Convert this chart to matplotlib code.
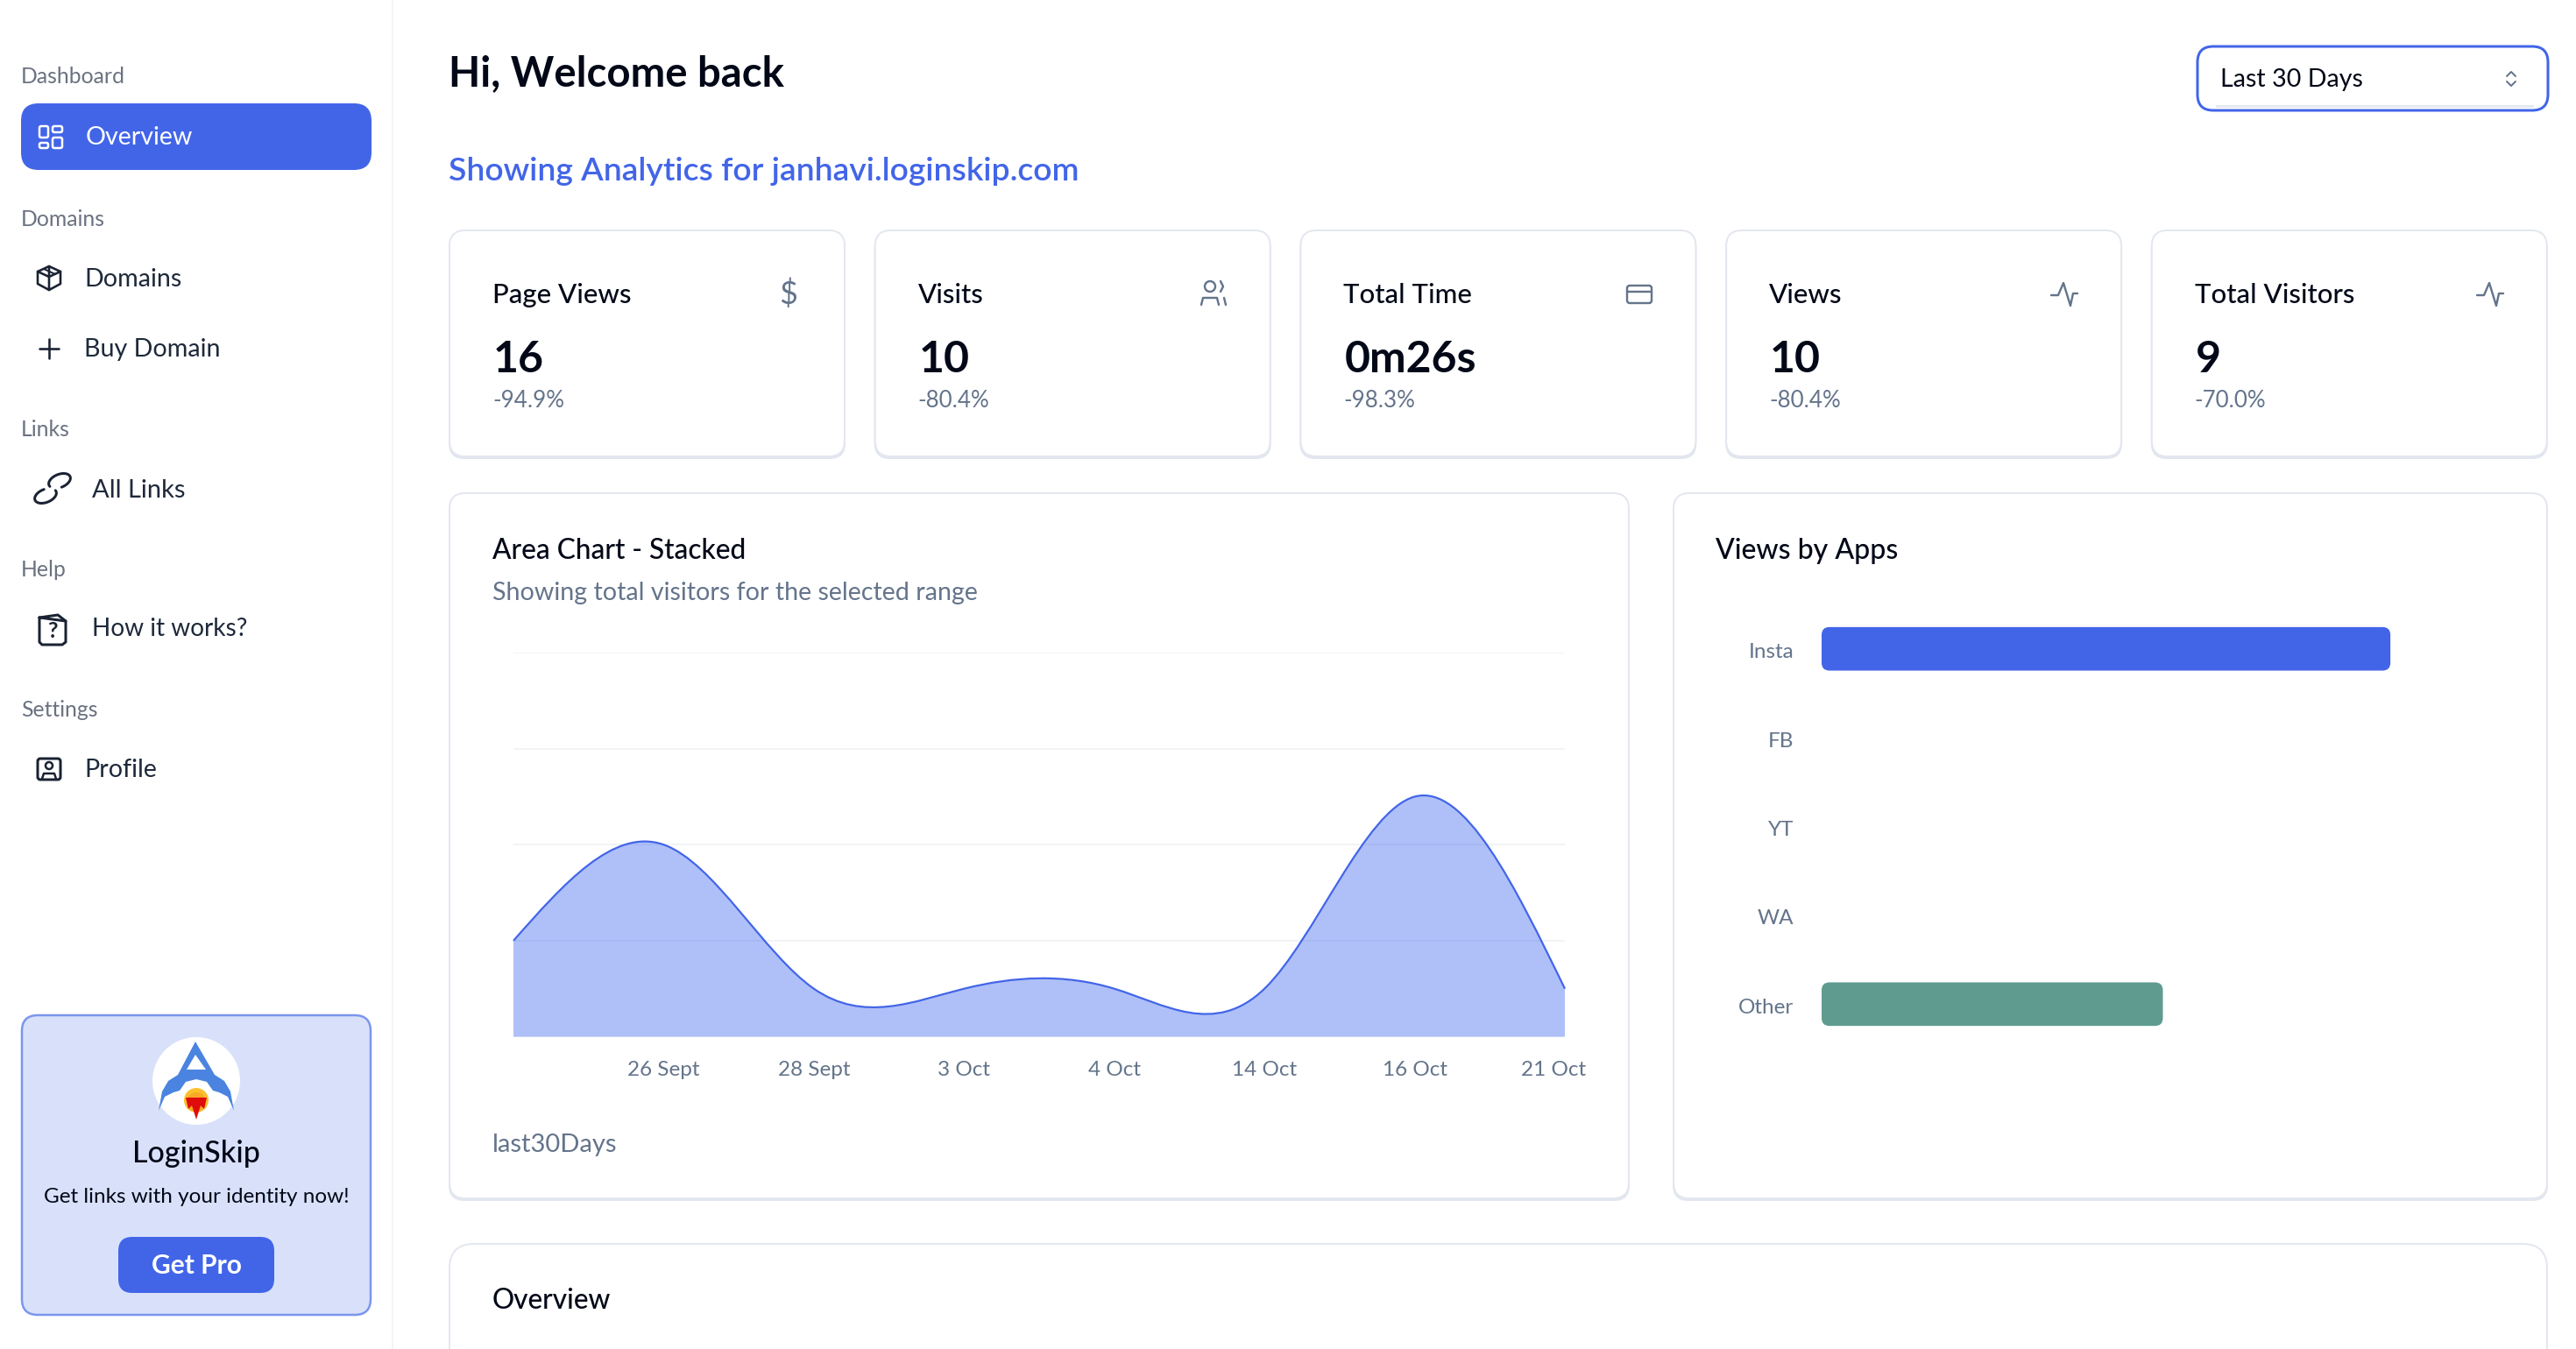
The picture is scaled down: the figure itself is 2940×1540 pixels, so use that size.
import numpy as np
import matplotlib

matplotlib.use("Agg")
import matplotlib.pyplot as plt
from matplotlib.patches import Circle, FancyBboxPatch, PathPatch, Polygon
from matplotlib.path import Path
from matplotlib.transforms import ScaledTranslation

W, H = 2940, 1540
FONT = "Lato"
PRIMARY = "#4265E8"
GREEN = "#5F9C8F"
DARK = "#020817"
GREY = "#64748B"
ICON = "#1A2233"
BORDER = "#E3E7EF"

# chart data
area_dates = ["", "26 Sept", "28 Sept", "3 Oct", "4 Oct", "14 Oct", "16 Oct", "21 Oct"]
area_visitors = [1, 2, 0.5, 0.5, 0.5, 0.5, 2.5, 0.5]
app_names = ["Insta", "FB", "YT", "WA", "Other"]
app_views = [10, 0, 0, 0, 6]
app_colors = [PRIMARY, PRIMARY, PRIMARY, PRIMARY, GREEN]

# stat cards
stat_titles = ["Page Views", "Visits", "Total Time", "Views", "Total Visitors"]
stat_values = ["16", "10", "0m26s", "10", "9"]
stat_changes = ["-94.9%", "-80.4%", "-98.3%", "-80.4%", "-70.0%"]

fig = plt.figure(figsize=(W / 100, H / 100), dpi=100, facecolor="white")
ui = fig.add_axes([0, 0, 1, 1])
ui.set_xlim(0, W)
ui.set_ylim(H, 0)
ui.axis("off")


def px(width):
    return width * 0.72


def label(x, cy, s, size, color=DARK, weight="normal", ha="left"):
    # cy is the middle of the capitals, size is in points
    ui.text(x, cy + size * 100 / 72 * 0.36, s, fontsize=size, color=color,
            fontweight=weight, ha=ha, va="baseline", family=FONT)


def rrect(x0, y0, x1, y1, r, face="white", edge="none", lw=0, zorder=1):
    box = FancyBboxPatch((x0, y0), x1 - x0, y1 - y0, boxstyle=f"round,pad=0,rounding_size={r}",
                         facecolor=face, edgecolor=edge, linewidth=px(lw), zorder=zorder)
    ui.add_patch(box)


def card(x0, y0, x1, y1, r=18):
    rrect(x0 - 1, y0 + 3, x1 + 1, y1 + 3, r, face="#E2E6EE")
    rrect(x0, y0, x1, y1, r, face="white", edge=BORDER, lw=2)


def stroke(xs, ys, color=ICON, lw=3):
    ui.plot(xs, ys, color=color, lw=px(lw), solid_capstyle="round", solid_joinstyle="round", zorder=3)


# sidebar
ui.plot([448, 448], [0, H], color="#F3F4F6", lw=px(2))
rrect(24, 118, 424, 194, 20, face=PRIMARY)
for text, y in [("Dashboard", 86), ("Domains", 249), ("Links", 489), ("Help", 649), ("Settings", 809)]:
    label(24, y, text, 17.8, color="#6B7280")
label(98, 155, "Overview", 20.6, color="white")
for text, x, y, size in [("Domains", 96, 317, 20.6), ("Buy Domain", 96, 397, 20.6), ("All Links", 105, 557, 21),
                         ("How it works?", 105, 716, 20.2), ("Profile", 96, 877, 20.6)]:
    label(x, y, text, size, color="#1E293B")

# sidebar icons
for x0, y0, x1, y1 in [(45, 144, 55, 157), (60, 144, 71, 151), (45, 163, 55, 169), (60, 157, 71, 169)]:
    rrect(x0, y0, x1, y1, 2, face="none", edge="white", lw=2.5, zorder=3)
stroke([56, 69, 69, 56, 43, 43, 56, 56, 56], [304, 310, 324, 331, 324, 310, 304, 316, 331], lw=2.6)
stroke([43, 56, 69], [310, 316, 310], lw=2.6)
stroke([50, 63], [307, 313], lw=2)
stroke([45, 67], [398, 398], lw=2.6)
stroke([56, 56], [387, 409], lw=2.6)
# chain link, two open tilted loops
tilt = np.radians(-22)
for cx, cy, start, end in [(68, 549, 2.9, 7.9), (52, 566, -0.2, 4.8)]:
    t = np.linspace(start, end, 50)
    ex, ey = 13 * np.cos(t), 7.5 * np.sin(t)
    stroke(cx + ex * np.cos(tilt) - ey * np.sin(tilt), cy + ex * np.sin(tilt) + ey * np.cos(tilt), lw=3)
stroke([45, 45, 48, 71, 75, 75, 45], [705, 733, 736, 736, 733, 709, 705], lw=3)
stroke([45, 66, 75], [705, 702, 709], lw=3)
ui.text(60, 720, "?", fontsize=18, color=ICON, ha="center", va="center", family=FONT, fontweight="bold", zorder=3)
rrect(43, 866, 69, 890, 3, face="none", edge=ICON, lw=3, zorder=3)
ui.add_patch(Circle((56, 874), 4, facecolor="none", edgecolor=ICON, lw=px(2.5), zorder=3))
stroke([48, 50, 62, 64], [889, 883, 883, 889], lw=2.5)

# promo box
rrect(25, 1159, 423, 1501, 18, face="#D9E1FA", edge="#7B96ED", lw=2.5)
ui.add_patch(Circle((224, 1234), 50, facecolor="white", edgecolor="none", zorder=2))
rocket = [(223, 1189), (245, 1227), (256, 1234), (263, 1246), (267, 1268), (260, 1252), (250, 1247), (243, 1245),
          (236, 1235), (224, 1232), (212, 1235), (205, 1245), (198, 1247), (188, 1252), (181, 1268), (185, 1246),
          (192, 1234), (203, 1227)]
ui.add_patch(Polygon(rocket, closed=True, facecolor="#4A84E0", edgecolor="none", zorder=3))
ui.add_patch(Polygon([(223, 1204), (235, 1221), (213, 1221)], closed=True, facecolor="white", edgecolor="none", zorder=4))
ui.add_patch(Circle((224, 1256), 14, facecolor="#FBC02D", edgecolor="none", zorder=3))
ui.add_patch(Circle((224, 1258), 11, facecolor="#F9A825", edgecolor="none", zorder=3))
ui.add_patch(Polygon([(212, 1253), (236, 1253), (233, 1266), (229, 1262), (224, 1278), (219, 1262),
                      (215, 1266)], closed=True, facecolor="#E00B0B", edgecolor="none", zorder=4))
label(224, 1315, "LoginSkip", 24.5, weight="medium", ha="center")
label(224, 1364, "Get links with your identity now!", 17.5, ha="center")
rrect(135, 1412, 313, 1476, 16, face=PRIMARY, zorder=2)
ui.text(224, 1445, "Get Pro", fontsize=21.5, color="white", fontweight="bold", ha="center", va="center", family=FONT, zorder=3)

# header
label(512, 81, "Hi, Welcome back", 34, weight="bold")
label(512, 193, "Showing Analytics for janhavi.loginskip.com", 26.8, color=PRIMARY, weight=600)
rrect(2508, 53, 2908, 126, 18, face="white", edge=PRIMARY, lw=3)
ui.plot([2530, 2890], [121, 121], color="#E6E9F0", lw=px(3), zorder=2)
label(2534, 89, "Last 30 Days", 20.6)
stroke([2861, 2866, 2871], [87, 82, 87], color=GREY, lw=2)
stroke([2861, 2866, 2871], [93, 98, 93], color=GREY, lw=2)

# stat cards
for i, title in enumerate(stat_titles):
    x0 = 513 + i * 485.7
    card(x0, 263, x0 + 451, 521)
    label(x0 + 49, 335, title, 22.4, weight="medium")
    label(x0 + 50, 407, stat_values[i], 36, weight="bold")
    label(x0 + 49, 456, stat_changes[i], 18.7, color=GREY)

ui.text(900, 336, "$", fontsize=26, color=GREY, ha="center", va="center", family=FONT, zorder=3)
ui.add_patch(Circle((1381, 327), 6, facecolor="none", edgecolor=GREY, lw=px(2.4), zorder=3))
stroke([1371, 1373, 1389, 1391], [348, 340, 340, 348], color=GREY, lw=2.4)
stroke([1393, 1396, 1393], [321, 327, 333], color=GREY, lw=2.4)
stroke([1397, 1399], [340, 348], color=GREY, lw=2.4)
rrect(1857, 326, 1885, 346, 3, face="none", edge=GREY, lw=2.4, zorder=3)
stroke([1857, 1885], [333, 333], color=GREY, lw=2.4)
for x0 in [2341, 2827]:
    stroke(x0 + np.array([0, 8, 14, 22, 25, 30]), [337, 337, 323, 349, 335, 335], color=GREY, lw=2.4)

# large cards
card(513, 563, 1859, 1368)
card(1910, 563, 2907, 1368)
card(513, 1420, 2907, 1640, r=28)
label(562, 627, "Area Chart - Stacked", 22.8, weight="medium")
label(562, 675, "Showing total visitors for the selected range", 20.6, color=GREY)
label(562, 1305, "last30Days", 21, color=GREY)
label(1958, 627, "Views by Apps", 23, weight="medium")
label(562, 1483, "Overview", 22.7, weight="medium")


def axes_px(x0, y0, x1, y1):
    ax = fig.add_axes([x0 / W, 1 - y1 / H, (x1 - x0) / W, (y1 - y0) / H], facecolor="none", zorder=5)
    for side in ax.spines.values():
        side.set_visible(False)
    return ax


def natural_bezier(values):
    # same curve the web chart draws for type="natural": cubic spline as bezier segments
    y = np.asarray(values, dtype=float)
    n = len(y)
    A = np.zeros((n, n))
    b = np.zeros(n)
    A[0, 0] = A[-1, -1] = 1
    for k in range(1, n - 1):
        A[k, k - 1:k + 2] = [1, 4, 1]
        b[k] = 6 * (y[k - 1] - 2 * y[k] + y[k + 1])
    m = np.linalg.solve(A, b)
    verts = [(0, y[0])]
    codes = [Path.MOVETO]
    for k in range(n - 1):
        dy = y[k + 1] - y[k]
        c1 = y[k] + dy / 3 - (2 * m[k] + m[k + 1]) / 18
        c2 = y[k + 1] - dy / 3 - (m[k] + 2 * m[k + 1]) / 18
        verts += [(k + 1 / 3, c1), (k + 2 / 3, c2), (k + 1, y[k + 1])]
        codes += [Path.CURVE4] * 3
    return verts, codes


# area chart
ax_area = axes_px(586, 745, 1786, 1183.5)
ax_area.set_xlim(0, len(area_visitors) - 1)
ax_area.set_ylim(0, 4)
ax_area.set_yticks([0, 1, 2, 3, 4])
ax_area.set_yticklabels([])
ax_area.tick_params(axis="y", length=0)
ax_area.grid(axis="y", color="#F2F3F5", lw=px(2))
ax_area.set_axisbelow(True)
ax_area.set_xticks(range(len(area_dates)))
ax_area.set_xticklabels(area_dates, fontsize=17.5, color=GREY, family=FONT)
ax_area.tick_params(axis="x", length=0, pad=20)
verts, codes = natural_bezier(area_visitors)
last = len(area_visitors) - 1
fill_path = Path(verts + [(last, 0), (0, 0), verts[0]], codes + [Path.LINETO, Path.LINETO, Path.CLOSEPOLY])
ax_area.add_patch(PathPatch(fill_path, facecolor="#4169F0", alpha=0.42, edgecolor="none", clip_on=False))
ax_area.add_patch(PathPatch(Path(verts, codes), facecolor="none", edgecolor=PRIMARY, lw=px(2.2), clip_on=False))
# the last label is pushed left so it stays inside the chart
tick_last = ax_area.get_xticklabels()[-1]
tick_last.set_transform(tick_last.get_transform() + ScaledTranslation(-13 / 100, 0, fig.dpi_scale_trans))

# bar chart
ax_bar = axes_px(2079, 690, 2858, 1197)
ax_bar.set_xlim(0, 12)
ax_bar.set_ylim(len(app_names) - 0.5, -0.5)
ax_bar.set_xticks([])
ax_bar.set_yticks(range(len(app_names)))
ax_bar.set_yticklabels(app_names, fontsize=17.5, color=GREY, family=FONT)
ax_bar.tick_params(axis="y", length=0, pad=23)
for tick in ax_bar.get_yticklabels():
    tick.set_transform(tick.get_transform() + ScaledTranslation(0, -2 / 100, fig.dpi_scale_trans))
unit_x, unit_y = 779 / 12, 507 / 5
for i, value in enumerate(app_views):
    if value > 0:
        ax_bar.add_patch(FancyBboxPatch((0, i - 0.245), value, 0.49,
                                        boxstyle=f"round,pad=0,rounding_size={9 / unit_x}",
                                        mutation_aspect=unit_x / unit_y,
                                        facecolor=app_colors[i], edgecolor="none"))

fig.savefig("out.png", dpi=100)
